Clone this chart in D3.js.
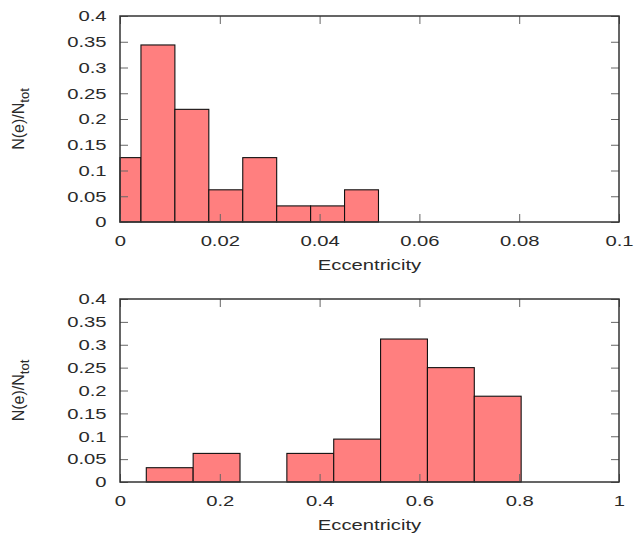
<!DOCTYPE html>
<html>
<head>
<meta charset="utf-8">
<script src="https://cdn.jsdelivr.net/npm/d3@7"></script>
<style>
  body { margin: 0; background: #fff; }
  svg text { font-family: "Liberation Sans", Arial, sans-serif; fill: #2a2a2a; }
  .axis .domain { display: none; }
  .axis line { stroke: #666; }
</style>
</head>
<body>
<div id="chart"></div>
<script>
// Histogram data: bin edges and fraction per bin
var yTicks = [0, 0.05, 0.1, 0.15, 0.2, 0.25, 0.3, 0.35, 0.4];

var topEdges  = [0, 0.0042, 0.0110, 0.0178, 0.0246, 0.0314, 0.0382, 0.0450, 0.0518];
var topValues = [0.125, 0.34375, 0.21875, 0.0625, 0.125, 0.03125, 0.03125, 0.0625];
var topXTicks = [0, 0.02, 0.04, 0.06, 0.08, 0.1];

var bottomEdges  = [0.0527, 0.1466, 0.2405, 0.3344, 0.4283, 0.5222, 0.6161, 0.7100, 0.8039];
var bottomValues = [0.03125, 0.0625, 0, 0.0625, 0.09375, 0.3125, 0.25, 0.1875];
var bottomXTicks = [0, 0.2, 0.4, 0.6, 0.8, 1];

var W = 635, H = 538;
// the original lettering is wide, so text gets stretched horizontally
var stretch = 1.35;

var svg = d3.select("#chart").append("svg")
    .attr("width", W)
    .attr("height", H);

function drawPanel(opts) {
  var left = 120, right = 619;
  var top = opts.top, bottom = opts.bottom;

  var x = d3.scaleLinear().domain(opts.xDomain).range([left, right]);
  var y = d3.scaleLinear().domain([0, 0.4]).range([bottom, top]);

  var bins = opts.values.map(function(v, i) {
    return {x0: opts.edges[i], x1: opts.edges[i + 1], value: v};
  }).filter(function(d) { return d.value > 0; });

  // Bars
  svg.append("g").selectAll("rect")
      .data(bins)
      .enter().append("rect")
      .attr("x", function(d) { return x(d.x0); })
      .attr("y", function(d) { return y(d.value); })
      .attr("width", function(d) { return x(d.x1) - x(d.x0); })
      .attr("height", function(d) { return y(0) - y(d.value); })
      .attr("fill", "#ff7f7f")
      .attr("stroke", "#111")
      .attr("stroke-width", 1.1);

  var fmt = function(d) { return String(d); };

  // Axes with inward ticks
  svg.append("g")
      .attr("class", "axis")
      .attr("transform", "translate(0," + bottom + ")")
      .call(d3.axisBottom(x).tickValues(opts.xTicks).tickFormat(fmt).tickSize(-8).tickPadding(13))
      .selectAll("text")
      .style("font-size", "15px")
      .attr("transform", "scale(" + stretch + ",1)");

  svg.append("g")
      .attr("class", "axis")
      .attr("transform", "translate(0," + top + ")")
      .call(d3.axisTop(x).tickValues(opts.xTicks).tickFormat("").tickSize(-8));

  svg.append("g")
      .attr("class", "axis")
      .attr("transform", "translate(" + left + ",0)")
      .call(d3.axisLeft(y).tickValues(yTicks).tickFormat(fmt).tickSize(-8).tickPadding(10))
      .selectAll("text")
      .style("font-size", "15px")
      .attr("transform", "scale(" + stretch + ",1)");

  svg.append("g")
      .attr("class", "axis")
      .attr("transform", "translate(" + right + ",0)")
      .call(d3.axisRight(y).tickValues(yTicks).tickFormat("").tickSize(-8));

  // Frame
  svg.append("rect")
      .attr("x", left)
      .attr("y", top)
      .attr("width", right - left)
      .attr("height", bottom - top)
      .attr("fill", "none")
      .attr("stroke", "#333")
      .attr("stroke-width", 1.5);

  // X label
  svg.append("text")
      .attr("transform", "translate(" + ((left + right) / 2) + "," + (bottom + 48) + ") scale(" + stretch + ",1)")
      .attr("text-anchor", "middle")
      .style("font-size", "15px")
      .text("Eccentricity");

  // Y label
  var yl = svg.append("text")
      .attr("transform", "translate(24," + ((top + bottom) / 2) + ") rotate(-90)")
      .attr("text-anchor", "middle")
      .style("font-size", "16px");
  yl.append("tspan").text("N(e)/N");
  yl.append("tspan").attr("dy", 5).style("font-size", "13px").text("tot");
}

drawPanel({top: 16, bottom: 222, xDomain: [0, 0.1], xTicks: topXTicks,
           edges: topEdges, values: topValues});
drawPanel({top: 299, bottom: 482, xDomain: [0, 1], xTicks: bottomXTicks,
           edges: bottomEdges, values: bottomValues});
</script>
</body>
</html>
